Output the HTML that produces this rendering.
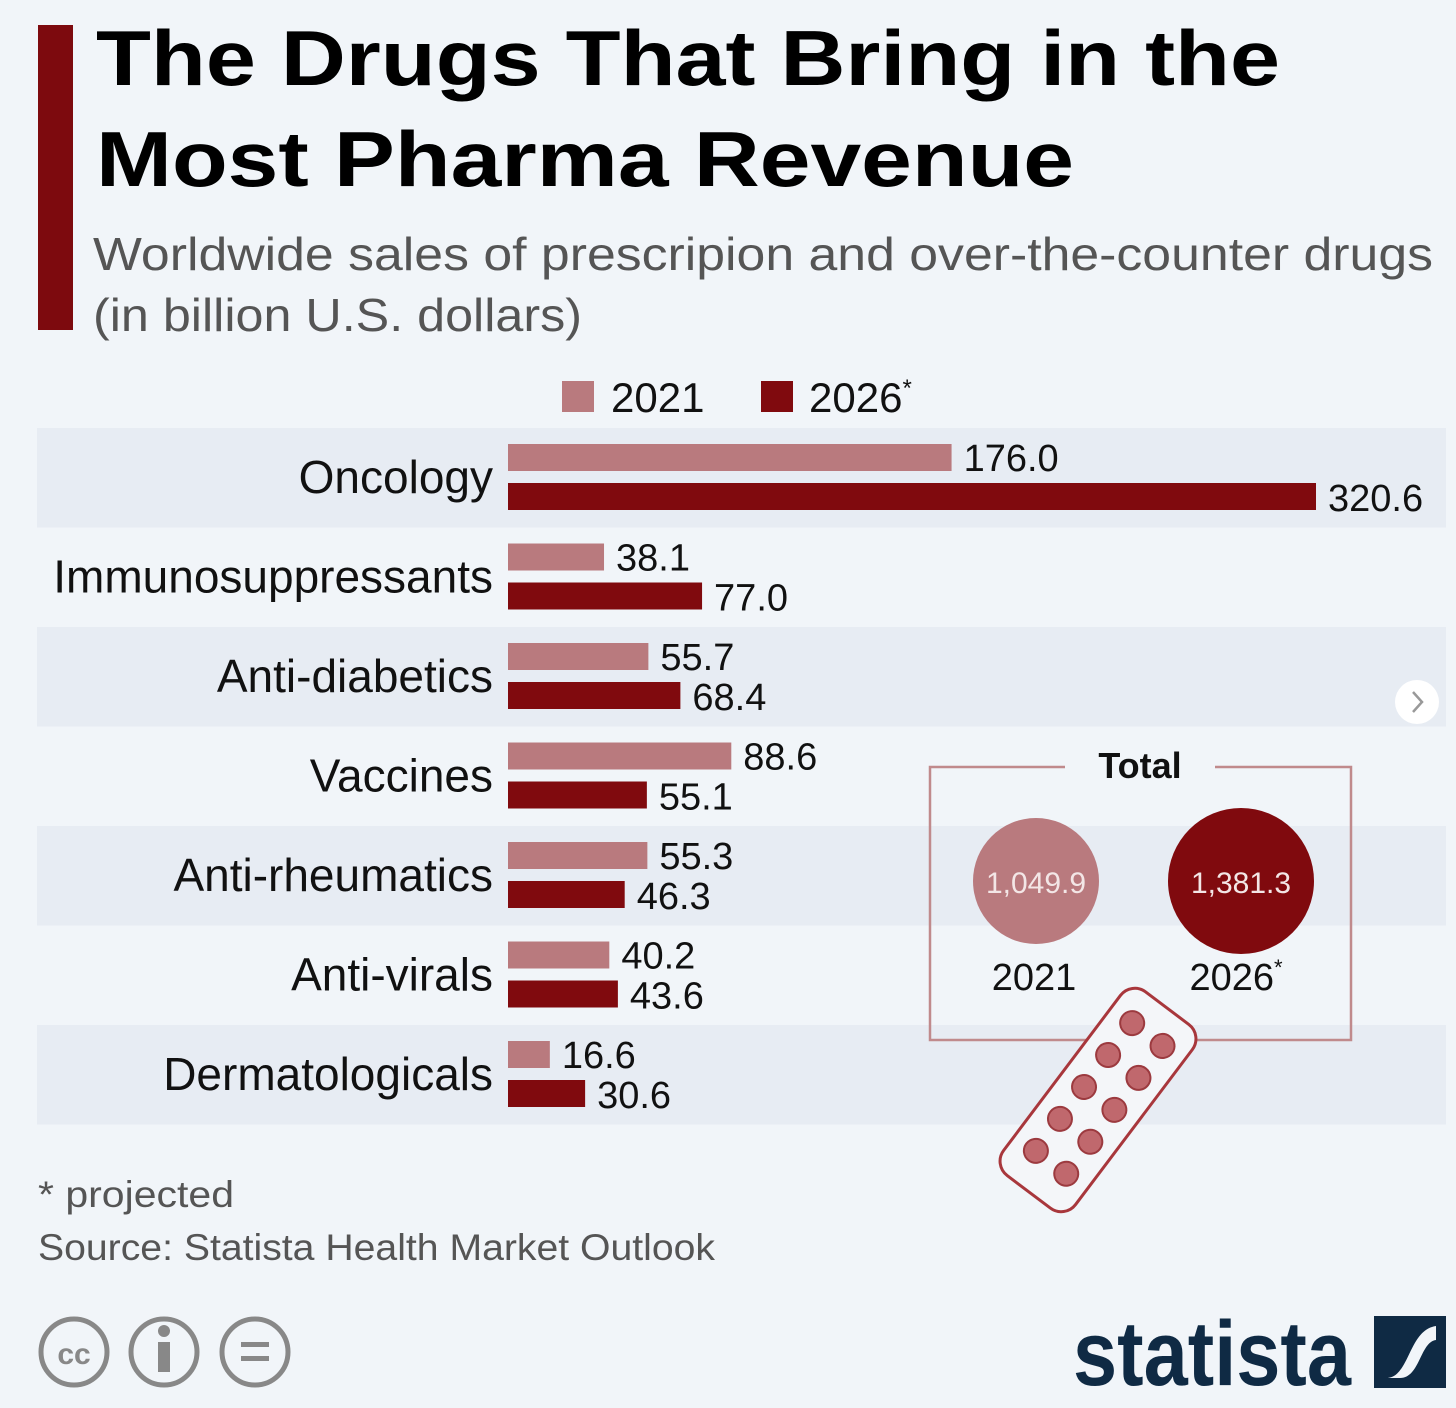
<!DOCTYPE html>
<html><head><meta charset="utf-8"><style>
body{margin:0;background:#f1f5f9;}
svg{display:block;font-family:"Liberation Sans",sans-serif;}
</style></head><body>
<svg id="c" width="1456" height="1408" viewBox="0 0 1456 1408">
<rect width="1456" height="1408" fill="#f1f5f9"/>
<rect x="38" y="25" width="35" height="305" fill="#7d0a0e"/>
<text x="96" y="85" font-size="78" font-weight="bold" fill="#000" textLength="1184" lengthAdjust="spacingAndGlyphs">The Drugs That Bring in the</text>
<text x="96" y="186" font-size="78" font-weight="bold" fill="#000" textLength="978" lengthAdjust="spacingAndGlyphs">Most Pharma Revenue</text>
<text x="93" y="270" font-size="46" fill="#555" textLength="1340" lengthAdjust="spacingAndGlyphs">Worldwide sales of prescripion and over-the-counter drugs</text>
<text x="93" y="331" font-size="46" fill="#555" textLength="489" lengthAdjust="spacingAndGlyphs">(in billion U.S. dollars)</text>
<g>
<rect x="562" y="381" width="32" height="31" fill="#b97a7e"/>
<text x="611" y="412" font-size="42" fill="#111">2021</text>
<rect x="761" y="381" width="32" height="31" fill="#800a0e"/>
<text x="809" y="412" font-size="42" fill="#111">2026<tspan font-size="24" dy="-16">*</tspan></text>
</g>
<g id="bars"></g>
<circle cx="1417" cy="702" r="22" fill="#fff"/>
<path d="M1413 692 L1422 702 L1413 712" fill="none" stroke="#999" stroke-width="2.5"/>
<g>
<path d="M1065 767 H930 V1040 H1351 V767 H1215" fill="none" stroke="#c08a8c" stroke-width="2.5"/>
<text x="1140" y="778" font-size="36" font-weight="bold" text-anchor="middle" fill="#111">Total</text>
<circle cx="1036" cy="881" r="63" fill="#b97a7e"/>
<text x="1036" y="893" font-size="30" text-anchor="middle" fill="#f3e6e6">1,049.9</text>
<circle cx="1241" cy="881" r="73" fill="#800a0e"/>
<text x="1241" y="893" font-size="30" text-anchor="middle" fill="#f3e6e6">1,381.3</text>
<text x="1034" y="990" font-size="38" text-anchor="middle" fill="#111">2021</text>
<text x="1236" y="990" font-size="38" text-anchor="middle" fill="#111">2026<tspan font-size="22" dy="-15">*</tspan></text>
</g>
<g id="pills" transform="translate(1098,1100) rotate(37)">
<rect x="-45" y="-115" width="90" height="230" rx="18" fill="#f4f6f9" stroke="#a8373c" stroke-width="3"/>
</g>
<text x="38" y="1207" font-size="37" fill="#555" textLength="196" lengthAdjust="spacingAndGlyphs">* projected</text>
<text x="38" y="1260" font-size="37" fill="#555" textLength="677" lengthAdjust="spacingAndGlyphs">Source: Statista Health Market Outlook</text>
<g fill="none" stroke="#888" stroke-width="5">
<circle cx="74" cy="1352" r="33"/><circle cx="164" cy="1352" r="33"/><circle cx="255" cy="1352" r="33"/>
<rect x="158" y="1342" width="12" height="30" fill="#888" stroke="none"/><circle cx="164" cy="1331" r="6" fill="#888" stroke="none"/>
<rect x="241" y="1342" width="28" height="5" fill="#888" stroke="none"/><rect x="241" y="1356" width="28" height="5" fill="#888" stroke="none"/>
</g>
<text x="74" y="1364" font-size="30" font-weight="bold" text-anchor="middle" fill="#888">cc</text>
<text x="1073" y="1385" font-size="92" font-weight="bold" fill="#0f2a44" textLength="278" lengthAdjust="spacingAndGlyphs">statista</text>
<rect x="1374" y="1316" width="72" height="72" fill="#0f2a44"/>
<path d="M1386 1378 C1410 1378 1408 1330 1436 1326 L1436 1340 C1420 1342 1420 1378 1400 1378Z" fill="#f1f5f9"/>
</svg>
<script>
const categories=["Oncology","Immunosuppressants","Anti-diabetics","Vaccines","Anti-rheumatics","Anti-virals","Dermatologicals"];
const values2021=[176.0,38.1,55.7,88.6,55.3,40.2,16.6];
const values2026=[320.6,77.0,68.4,55.1,46.3,43.6,30.6];
const NS="http://www.w3.org/2000/svg";
const g=document.getElementById('bars');
const x0=508,scale=808/320.6,rowH=99.5,top0=428;
const xs=v=>v*scale;
function mk(t,a){const e=document.createElementNS(NS,t);for(const k in a)e.setAttribute(k,a[k]);g.appendChild(e);return e;}
categories.forEach((c,i)=>{
  const y=top0+i*rowH;
  if(i%2===0){const b=mk('rect',{x:37,y:y,width:1409,height:rowH,fill:'#e7ecf3'});
    
    }
  const l=mk('text',{x:493,y:y+65,'font-size':46,'text-anchor':'end',fill:'#111'});l.textContent=c;
  
  
  const b1=mk('rect',{x:x0,y:y+16,width:xs(values2021[i]),height:27,fill:'#b97a7e'});
  
  
  const b2=mk('rect',{x:x0,y:y+55,width:xs(values2026[i]),height:27,fill:'#800a0e'});
  
  
  const t1=mk('text',{x:x0+xs(values2021[i])+12,y:y+43,'font-size':38,fill:'#111'});t1.textContent=values2021[i].toFixed(1);
  
  
  const t2=mk('text',{x:x0+xs(values2026[i])+12,y:y+83,'font-size':38,fill:'#111'});t2.textContent=values2026[i].toFixed(1);
  
  
});
const p=document.getElementById('pills');
for(let r=0;r<5;r++)for(let c=0;c<2;c++){
  const e=document.createElementNS(NS,'circle');
  e.setAttribute('cx',-19+c*38);e.setAttribute('cy',-82+r*40);e.setAttribute('r',12);
  e.setAttribute('fill','#c0686d');e.setAttribute('stroke','#9c3a3f');e.setAttribute('stroke-width','2');
  
  
  p.appendChild(e);
}
</script>
</body></html>
